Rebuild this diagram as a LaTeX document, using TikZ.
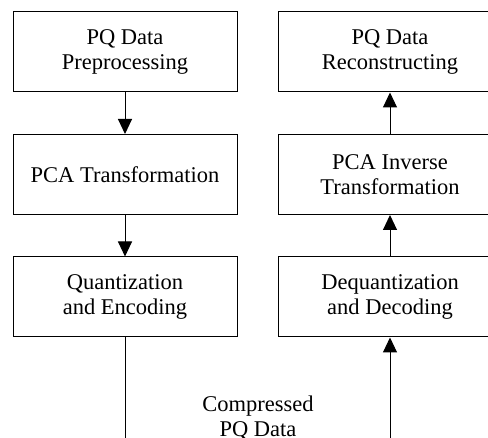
\documentclass[tikz,border=0pt]{standalone}
\usepackage{fontspec}
\setmainfont{Liberation Serif}
\usepackage{tikz}
\usetikzlibrary{positioning,arrows.meta}

\begin{document}
\begin{tikzpicture}[x=1pt, y=1pt, node distance=122.5pt,
    txt/.style={align=center, font=\fontsize{22.5}{25}\selectfont},
    block/.style={txt, draw, line width=1pt, minimum width=224pt, minimum height=80pt, inner sep=0pt},
    flow/.style={draw, line width=1pt, -{Triangle[width=14pt,length=15pt]}}]
        \clip (0,0) rectangle (488,-438);
        \useasboundingbox (0,0) rectangle (488,-438);

        \node[block] (A) at (125,-52) {PQ Data\\Preprocessing};
        \node[block] (B) [below of=A] {PCA Transformation};
        \node[block] (C) [below of=B] {Quantization\\and Encoding};

        \node[block] (D) [right = 40pt of A] {PQ Data\\Reconstructing};
        \node[block] (E) [below of=D] {PCA Inverse\\Transformation};
        \node[block] (F) [below of=E] {Dequantization\\and Decoding};

        \coordinate (bot) at (0,-442);
        \coordinate (G) at (C.south |- bot);
        \coordinate (H) at (F.south |- bot);
        \node[txt] (I) at (258,-418) {Compressed\\PQ Data};

        \path
          (A) edge[flow] (B)
          (B) edge[flow] (C)

          (H) edge[flow] (F)
          (F) edge[flow] (E)
          (E) edge[flow] (D);

        \draw[line width=1pt] (C) -- (G);
\end{tikzpicture}
\end{document}
